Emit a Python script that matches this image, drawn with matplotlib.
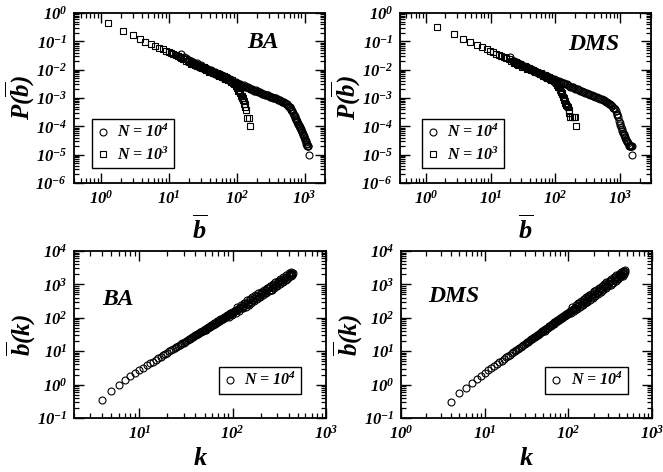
import matplotlib
matplotlib.use('Agg')
import numpy as np
import matplotlib.pyplot as plt
from matplotlib.ticker import LogLocator, FuncFormatter, NullFormatter
from matplotlib.lines import Line2D

plt.rcParams['mathtext.fontset'] = 'custom'
plt.rcParams['mathtext.rm'] = 'Liberation Serif:bold:italic'
plt.rcParams['mathtext.it'] = 'Liberation Serif:bold:italic'
plt.rcParams['mathtext.bf'] = 'Liberation Serif:bold:italic'
plt.rcParams['font.family'] = ['Liberation Serif', 'DejaVu Serif']
plt.rcParams['font.weight'] = 'bold'
plt.rcParams['font.style'] = 'italic'

# ---------------- data ----------------
# Top-left (BA): P(b) for N = 10^3 (squares)
ba_sq_b = [1.25, 2.1, 2.95, 3.7, 4.5, 5.4, 6.3, 7.2, 8.1, 9.0, 9.9, 10.8, 11.7, 12.6, 13.5,
           14.4, 15.3, 16.2, 17.1, 18.0, 19.0, 20.0, 21.0, 22.5, 24.0, 25.5, 27.0, 28.5, 30.0,
           32.0, 34.0, 36.0, 38.0, 40.0, 42.5, 45.0, 47.5, 50.0, 53.0, 56.0, 59.0, 62.0, 65.0,
           68.0, 72.0, 76.0, 80.0, 84.0, 88.0, 92.0, 96.0, 100, 105, 110, 115, 120, 125, 130,
           134, 137, 141, 150, 157,
           21.5, 23, 26, 29, 31, 33, 35, 37, 39, 41, 44, 46, 49, 52, 55, 58, 61, 64, 67, 70,
           74, 78, 82, 86, 90, 94, 98, 103, 108, 112, 118, 122, 128, 132]
ba_sq_p = [0.45, 0.24, 0.17, 0.12, 0.097, 0.080, 0.068, 0.060, 0.053, 0.047, 0.042, 0.038, 0.035,
           0.032, 0.030, 0.027, 0.026, 0.024, 0.023, 0.021, 0.020, 0.0185, 0.0178, 0.0165, 0.0152,
           0.0145, 0.0135, 0.0128, 0.0122, 0.0113, 0.0108, 0.0100, 0.0096, 0.0090, 0.0086, 0.0080,
           0.0077, 0.0072, 0.0068, 0.0064, 0.0060, 0.0057, 0.0054, 0.0051, 0.0048, 0.0045, 0.0042,
           0.0038, 0.0034, 0.0030, 0.0026, 0.0022, 0.0018, 0.0015, 0.0012, 0.0010, 0.00082,
           0.00062, 0.00048, 0.00038, 0.0002, 0.0002, 0.0001,
           0.0160, 0.0172, 0.0130, 0.0138, 0.0110, 0.0120, 0.0098, 0.0106, 0.0086, 0.0095,
           0.0078, 0.0086, 0.0068, 0.0076, 0.0060, 0.0067, 0.0054, 0.0060, 0.0048, 0.0054,
           0.0043, 0.0048, 0.0038, 0.0042, 0.0033, 0.0031, 0.0027, 0.0022, 0.0017, 0.0016,
           0.0012, 0.0010, 0.0008, 0.0006]
# Top-left (BA): P(b) for N = 10^4 (circles)
ba_ci_b = [15, 16.5, 18, 19.5, 21, 23, 25, 27, 29, 31.5, 34, 37, 40, 43, 46.5, 50, 54, 58, 62.5,
           67, 72, 77, 83, 89, 95, 100, 107, 115, 123, 132, 141, 151, 162, 174, 186, 200, 215,
           230, 246, 264, 283, 303, 325, 348, 372, 398, 425, 455, 485, 515, 545, 575, 600, 625,
           650, 675, 700, 725, 750, 780, 810, 840, 870, 900, 930, 960, 990, 1020, 1050, 1080,
           1110, 1130, 1170,
           24, 26, 28, 30, 33, 35.5, 38.5, 41.5, 45, 48, 52, 56, 60, 65, 70, 75, 80, 86, 92, 98,
           104, 111, 119, 127, 136, 146, 156, 168, 180, 193, 207, 222, 238, 255, 273, 293, 314,
           336, 360, 385, 411, 440, 470, 500, 530, 560, 588, 612, 638, 662, 688, 712, 738, 765,
           795, 825, 855, 885, 915, 945, 975, 1005, 1035, 1065, 1095]
ba_ci_p = [0.036, 0.029, 0.025, 0.022, 0.020, 0.0180, 0.0160, 0.0145, 0.0132, 0.0120, 0.0110,
           0.0100, 0.0091, 0.0084, 0.0077, 0.0071, 0.0065, 0.0060, 0.0055, 0.0051, 0.0047,
           0.0044, 0.0040, 0.0037, 0.0035, 0.0033, 0.0031, 0.0029, 0.0027, 0.0025, 0.0024,
           0.0022, 0.0021, 0.0019, 0.0018, 0.00172, 0.0016, 0.0015, 0.0014, 0.0013, 0.00124,
           0.00117, 0.0011, 0.00103, 0.00097, 0.00091, 0.00086, 0.00079, 0.00072, 0.00065,
           0.00059, 0.00054, 0.00049, 0.00042, 0.00035, 0.00029, 0.000245, 0.0002, 0.00017,
           0.00014, 0.00012, 0.000103, 8.8e-5, 7.3e-5, 6.1e-5, 5.0e-5, 4.1e-5, 3.3e-5, 2.7e-5,
           2.3e-5, 2.0e-5, 2.0e-5, 1.0e-5,
           0.0150, 0.0170, 0.0128, 0.0142, 0.0106, 0.0118, 0.0092, 0.0100, 0.0074, 0.0084,
           0.0064, 0.0070, 0.0054, 0.0058, 0.0045, 0.0049, 0.0039, 0.0042, 0.0034, 0.0036,
           0.0030, 0.0032, 0.0027, 0.0029, 0.0024, 0.0025, 0.0021, 0.0021, 0.0018, 0.0019,
           0.0016, 0.00162, 0.00142, 0.00142, 0.00125, 0.00127, 0.00111, 0.00112, 0.00097,
           0.00099, 0.00086, 0.00087, 0.00073, 0.00072, 0.00060, 0.00060, 0.00050, 0.00048,
           0.00037, 0.00034, 0.00025, 0.00023, 0.00018, 0.00016, 0.00012, 0.00011, 9.2e-5,
           8.0e-5, 6.5e-5, 5.4e-5, 4.5e-5, 3.7e-5, 3.0e-5, 2.4e-5, 2.0e-5]

# Top-right (DMS): N = 10^3 (squares)
dms_sq_b = [1.5, 2.7, 3.75, 4.9, 6.2, 7.5, 8.7, 9.8, 11.0, 12.2, 13.4, 14.6, 16.0, 17.5, 19.0,
            20.5, 22.0, 24.0, 26.0, 28.0, 30.0, 32.5, 35.0, 38.0, 41.0, 44.0, 47.5, 51.0, 55.0,
            59.0, 63.5, 68.0, 73.0, 78.0, 84.0, 90.0, 96.0, 102, 108, 114, 120, 126, 132, 137,
            142, 148, 155, 160, 164, 168, 180, 192, 204, 211,
            23, 25, 27, 29, 31, 34, 36.5, 39.5, 42.5, 46, 49, 53, 57, 61, 65.5, 70.5, 75.5, 81,
            87, 93, 99, 105, 111, 117, 123, 129, 134, 139, 145, 151]
dms_sq_p = [0.33, 0.18, 0.12, 0.092, 0.074, 0.062, 0.053, 0.047, 0.041, 0.037, 0.033, 0.030,
            0.027, 0.025, 0.023, 0.021, 0.0195, 0.0178, 0.0165, 0.0153, 0.0143, 0.0132, 0.0122,
            0.0112, 0.0104, 0.0097, 0.0090, 0.0083, 0.0077, 0.0071, 0.0066, 0.0061, 0.0056,
            0.0052, 0.0048, 0.0044, 0.0040, 0.0035, 0.0029, 0.0024, 0.0019, 0.0015, 0.0011,
            0.00085, 0.00068, 0.00056, 0.00049, 0.00038, 0.00029, 0.00021, 0.00021, 0.00021,
            0.00021, 0.0001,
            0.0170, 0.0182, 0.0145, 0.0156, 0.0126, 0.0134, 0.0108, 0.0114, 0.0094, 0.0100,
            0.0081, 0.0086, 0.0070, 0.0075, 0.0061, 0.0065, 0.0052, 0.0055, 0.0044, 0.0046,
            0.0038, 0.0034, 0.0025, 0.0023, 0.0016, 0.0014, 0.0010, 0.0008, 0.0006, 0.00052]
# Top-right (DMS): N = 10^4 (circles)
dms_ci_b = [20, 22, 24, 26.5, 29, 32, 35, 38.5, 42, 46, 50.5, 55, 60, 66, 72, 79, 86, 94, 103,
            113, 124, 136, 149, 163, 178, 195, 213, 233, 255, 279, 305, 333, 364, 398, 435, 475,
            520, 565, 610, 660, 710, 760, 810, 860, 910, 960, 1010, 1060, 1110, 1160, 1210, 1260,
            1320, 1380, 1440, 1490, 1550,
            23, 25, 28, 30.5, 33.5, 36.5, 40, 44, 48, 52.5, 57.5, 63, 69, 75.5, 82.5, 90, 98,
            108, 118, 130, 142, 156, 170, 186, 204, 223, 244, 267, 292, 319, 348, 381, 416, 455,
            497, 542, 587, 635, 685, 735, 785, 835, 885, 935, 985, 1035, 1085, 1135, 1185, 1235,
            1290, 1350, 1410, 1465, 1520]
dms_ci_p = [0.029, 0.021, 0.019, 0.0168, 0.0152, 0.0138, 0.0125, 0.0113, 0.0104, 0.0095, 0.0086,
            0.0079, 0.0072, 0.0066, 0.0060, 0.0055, 0.0050, 0.0046, 0.0042, 0.0039, 0.0036,
            0.0033, 0.0030, 0.0027, 0.0025, 0.0023, 0.0021, 0.0019, 0.00175, 0.0016, 0.00148,
            0.00136, 0.00125, 0.00115, 0.00106, 0.00098, 0.0009, 0.00082, 0.00075, 0.00067,
            0.0006, 0.00052, 0.00043, 0.00034, 0.00025, 0.00016, 0.00011, 8.0e-5, 6.0e-5, 4.8e-5,
            3.8e-5, 3.0e-5, 2.5e-5, 2.0e-5, 2.0e-5, 2.0e-5, 1.0e-5,
            0.0205, 0.0182, 0.0155, 0.0148, 0.0128, 0.0122, 0.0106, 0.0101, 0.0088, 0.0085,
            0.0073, 0.0070, 0.0060, 0.0058, 0.0050, 0.0048, 0.0042, 0.0041, 0.0036, 0.0035,
            0.0030, 0.0029, 0.0025, 0.0024, 0.0021, 0.0020, 0.00175, 0.00168, 0.00148, 0.00142,
            0.00125, 0.00121, 0.00106, 0.00104, 0.0009, 0.00088, 0.00076, 0.00072, 0.00061,
            0.00057, 0.00046, 0.00040, 0.00028, 0.00021, 0.00013, 9.5e-5, 6.8e-5, 5.4e-5,
            4.2e-5, 3.4e-5, 2.7e-5, 2.2e-5, 2.0e-5, 2.0e-5, 2.0e-5]

# Bottom-left (BA): b(k), N = 10^4
ba_k = [4, 5, 6, 7, 8, 9, 10, 11, 12, 13, 14, 15, 16, 17, 18, 19, 20, 22, 24, 26, 28, 30, 33,
        36, 39, 42, 46, 50, 55, 60, 65, 70, 76, 82, 89, 96, 104, 112, 121, 130, 140, 150, 161,
        173, 186, 200, 215, 230, 247, 265, 285, 305, 327, 350, 375, 400, 425, 437,
        21, 23, 25, 27, 29, 31, 32, 34, 35, 37, 38, 40, 41, 43, 44, 45, 47, 48, 49, 52, 53,
        57, 58, 62, 63, 67, 68, 72, 74, 78, 80, 85, 87, 92, 94, 99, 101,
        51, 54, 56, 59, 61, 64, 66, 69, 71, 73, 75, 77, 79, 81, 83, 84, 86, 88, 90, 91, 93,
        95, 97, 98, 100, 102, 106, 110, 114, 117, 119,
        108, 112, 118, 122, 125, 128, 132, 135, 138, 142, 145, 148, 152, 155, 158, 162, 165,
        168, 172, 178, 182, 186, 190, 195, 200, 205, 210, 215, 220, 225, 232, 238, 245, 250,
        255, 262, 268, 272, 280, 285, 290, 300, 305, 312, 320, 325, 335, 345, 350, 360, 370,
        375, 385, 395, 400, 410, 420, 425, 430, 435, 440]
ba_bk = [0.34, 0.64, 0.97, 1.37, 1.8, 2.25, 2.75, 3.24, 3.76, 4.31, 4.90, 5.52, 6.17, 6.84,
         7.55, 8.29, 9.05, 10.7, 12.4, 14.2, 16.2, 18.2, 21.4, 24.9, 28.6, 32.4, 37.9, 43.8,
         51.6, 60.0, 68.8, 78.1, 90.0, 103, 118, 135, 155, 177, 205, 233, 267, 303, 345, 393,
         449, 513, 585, 662, 755, 858, 980, 1110, 1260, 1430, 1620, 1820, 2040, 2140,
         9.9, 11.5, 13.3, 15.2, 17.2, 19.3, 20.3, 22.6, 23.7, 26.1, 27.3, 29.8, 31.2, 33.8,
         35.2, 36.6, 39.4, 40.8, 42.3, 44.5, 50.8, 52.2, 59.3, 60.2, 68.5, 68.9, 77.9, 77.9,
         90.3, 89.4, 103, 104, 120, 108, 136, 124, 153,
         45.3, 50.0, 53.2, 58.2, 61.7, 67.0, 70.6, 76.2, 80.1, 84.0, 88.0, 92.1, 96.2, 100.4,
         104.8, 107, 111, 116, 120, 123, 127, 132, 137, 139, 144, 149, 160, 171, 183, 192, 198,
         140, 210, 165, 245, 190, 190, 285, 275, 215, 330, 255, 245, 375, 360, 280, 420, 330,
         320, 480, 460, 365, 540, 420, 410, 610, 600, 480, 700, 560, 540, 790, 760, 620, 900,
         700, 700, 1000, 960, 800, 1150, 900, 900, 1300, 1250, 1050, 1500, 1150, 1150, 1700,
         1600, 1350, 1900, 1500, 1550, 2150, 2050, 1750, 2400, 1850, 1900, 2250]

# Bottom-right (DMS): b(k), N = 10^4
dms_k = [4, 5, 6, 7, 8, 9, 10, 11, 12, 13, 14, 15, 16, 17, 18, 19, 20, 22, 24, 26, 28, 30, 33,
         36, 39, 42, 46, 50, 55, 60, 65, 70, 76, 82, 89, 96, 104, 112, 121, 130, 140, 150, 161,
         173, 186, 200, 215, 230, 247, 265, 285, 305, 327, 350, 375, 400, 425, 450, 475,
         21, 23, 25, 27, 29, 31, 32, 34, 35, 37, 38, 40, 41, 43, 44, 45, 47, 48, 49, 52, 53,
         57, 58, 62, 63, 67, 68, 72, 74, 78, 80, 85, 87, 92, 94, 99,
         51, 54, 56, 59, 61, 64, 66, 69, 71, 73, 75, 77, 79, 81, 83, 84, 86, 88, 90, 91, 93,
         95, 97, 98, 100, 102, 106, 110, 114, 117, 119,
         108, 112, 118, 122, 125, 128, 132, 135, 138, 142, 145, 148, 152, 155, 158, 162, 165,
         168, 172, 178, 182, 186, 190, 195, 200, 205, 210, 215, 220, 225, 232, 238, 245, 250,
         255, 262, 268, 272, 280, 285, 290, 300, 305, 312, 320, 325, 335, 345, 350, 360, 370,
         375, 385, 395, 400, 410, 420, 425, 440, 445, 450, 460, 465, 470]
dms_bk = [0.31, 0.55, 0.81, 1.14, 1.5, 1.85, 2.25, 2.67, 3.13, 3.61, 4.12, 4.67, 5.24, 5.84,
          6.48, 7.14, 7.83, 9.30, 10.9, 12.6, 14.4, 16.3, 19.3, 22.6, 26.1, 29.8, 35.1, 40.8,
          48.4, 56.6, 65.4, 74.7, 86.5, 99.3, 115, 132, 152, 174, 201, 229, 262, 297, 338, 385,
          439, 501, 572, 646, 736, 836, 955, 1080, 1225, 1387, 1573, 1770, 1977, 2193, 2420,
          8.55, 10.1, 11.7, 13.4, 15.3, 17.2, 18.3, 20.4, 21.5, 23.7, 24.9, 27.3, 28.5, 31.1,
          32.4, 33.7, 36.5, 37.9, 39.3, 41.6, 47.6, 49.0, 55.9, 57.0, 64.3, 65.7, 74.4, 74.7,
          86.8, 86.3, 99.8, 101, 116, 116, 133, 133,
          42.3, 46.8, 50.0, 54.9, 58.3, 63.6, 67.2, 72.8, 76.6, 80.5, 84.6, 88.7, 92.9, 97.2,
          101.5, 103.7, 108.2, 112.8, 117.4, 119.8, 124.6, 129.4, 134.4, 136.9, 142, 147, 158,
          169, 180, 189, 195,
          135, 205, 160, 245, 185, 185, 285, 280, 212, 325, 250, 240, 365, 360, 270, 410, 320,
          300, 460, 470, 350, 530, 410, 400, 600, 620, 455, 690, 540, 515, 790, 800, 600, 900,
          680, 680, 1020, 1000, 770, 1150, 870, 870, 1300, 1300, 980, 1460, 1120, 1120, 1670,
          1650, 1280, 1890, 1450, 1440, 2120, 2100, 1610, 2380, 1900, 1800, 2600, 2500, 2000,
          2750]

legend_n4 = r'N = 10$^{4}$'
legend_n3 = r'N = 10$^{3}$'

# ---------------- figure ----------------
W, H = 663, 472
fig = plt.figure(figsize=(W / 100, H / 100), dpi=100)


def ax_px(l, t, r, b):
    return fig.add_axes([l / W, 1 - b / H, (r - l) / W, (b - t) / H])


def logfmt(v, p):
    e = int(round(np.log10(v)))
    return r'$10^{%d}$' % e


def style(ax, xlim, ylim, xdec, ydec):
    ax.set_xscale('log')
    ax.set_yscale('log')
    ax.set_xlim(*xlim)
    ax.set_ylim(*ylim)
    ax.xaxis.set_major_locator(plt.FixedLocator([10.0 ** e for e in xdec]))
    ax.yaxis.set_major_locator(plt.FixedLocator([10.0 ** e for e in ydec]))
    ax.xaxis.set_minor_locator(LogLocator(base=10, subs=np.arange(2, 10), numticks=20))
    ax.yaxis.set_minor_locator(LogLocator(base=10, subs=np.arange(2, 10), numticks=20))
    ax.xaxis.set_major_formatter(FuncFormatter(logfmt))
    ax.yaxis.set_major_formatter(FuncFormatter(logfmt))
    ax.xaxis.set_minor_formatter(NullFormatter())
    ax.yaxis.set_minor_formatter(NullFormatter())
    ax.tick_params(which='both', direction='in', top=True, right=True, labelsize=12)
    ax.tick_params(which='major', length=7, width=1.0, pad=5)
    ax.tick_params(which='minor', length=3.5, width=0.9)
    for s in ax.spines.values():
        s.set_linewidth(1.3)


circ = dict(marker='o', ls='none', mfc='none', mec='k', ms=5.0, mew=0.8)
sq = dict(marker='s', ls='none', mfc='none', mec='k', ms=4.0, mew=0.8)


def make_legend(ax, handles, labels, anchor):
    leg = ax.legend(handles, labels, loc='lower left', bbox_to_anchor=anchor,
                    borderaxespad=0, fancybox=False, edgecolor='k', framealpha=1,
                    handlelength=0.8, handletextpad=0.5, borderpad=0.3,
                    labelspacing=0.3, fontsize=11.5)
    leg.get_frame().set_linewidth(1.0)
    return leg


# Top-left
ax1 = ax_px(74, 13, 325, 183)
ax1.plot(ba_ci_b, ba_ci_p, **circ)
ax1.plot(ba_sq_b, ba_sq_p, **sq)
style(ax1, (0.4, 2000), (1e-6, 1), range(0, 4), range(-6, 1))
ax1.set_xlabel(r'$\overline{b}$', fontsize=19, labelpad=5)
ax1.set_ylabel(r'$P(\overline{b})$', fontsize=18, labelpad=-1)
ax1.text(0.753, 0.826, 'BA', transform=ax1.transAxes, fontsize=17, ha='center', va='center')
make_legend(ax1, [Line2D([], [], **circ), Line2D([], [], **sq)], [legend_n4, legend_n3],
            (0.07, 0.086))

# Top-right
ax2 = ax_px(400, 13, 651, 183)
ax2.plot(dms_ci_b, dms_ci_p, **circ)
ax2.plot(dms_sq_b, dms_sq_p, **sq)
style(ax2, (0.4, 3000), (1e-6, 1), range(0, 4), range(-6, 1))
ax2.set_xlabel(r'$\overline{b}$', fontsize=19, labelpad=5)
ax2.set_ylabel(r'$P(\overline{b})$', fontsize=18, labelpad=-1)
ax2.text(0.77, 0.812, 'DMS', transform=ax2.transAxes, fontsize=17, ha='center', va='center')
make_legend(ax2, [Line2D([], [], **circ), Line2D([], [], **sq)], [legend_n4, legend_n3],
            (0.086, 0.086))

# Bottom-left
ax3 = ax_px(74, 251, 326, 418)
ax3.plot(ba_k, ba_bk, **circ)
style(ax3, (2, 1000), (0.1, 1e4), range(1, 4), range(-1, 5))
ax3.set_xlabel(r'$k$', fontsize=19, labelpad=4)
ax3.set_ylabel(r'$\overline{b}(k)$', fontsize=18, labelpad=-1)
ax3.text(0.173, 0.71, 'BA', transform=ax3.transAxes, fontsize=17, ha='center', va='center')
make_legend(ax3, [Line2D([], [], **circ)], [legend_n4], (0.575, 0.142))

# Bottom-right
ax4 = ax_px(401, 251, 652, 418)
ax4.plot(dms_k, dms_bk, **circ)
style(ax4, (1, 1000), (0.1, 1e4), range(0, 4), range(-1, 5))
ax4.set_xlabel(r'$k$', fontsize=19, labelpad=4)
ax4.set_ylabel(r'$\overline{b}(k)$', fontsize=18, labelpad=-1)
ax4.text(0.211, 0.73, 'DMS', transform=ax4.transAxes, fontsize=17, ha='center', va='center')
make_legend(ax4, [Line2D([], [], **circ)], [legend_n4], (0.574, 0.142))

fig.savefig('out.png', dpi=100)
